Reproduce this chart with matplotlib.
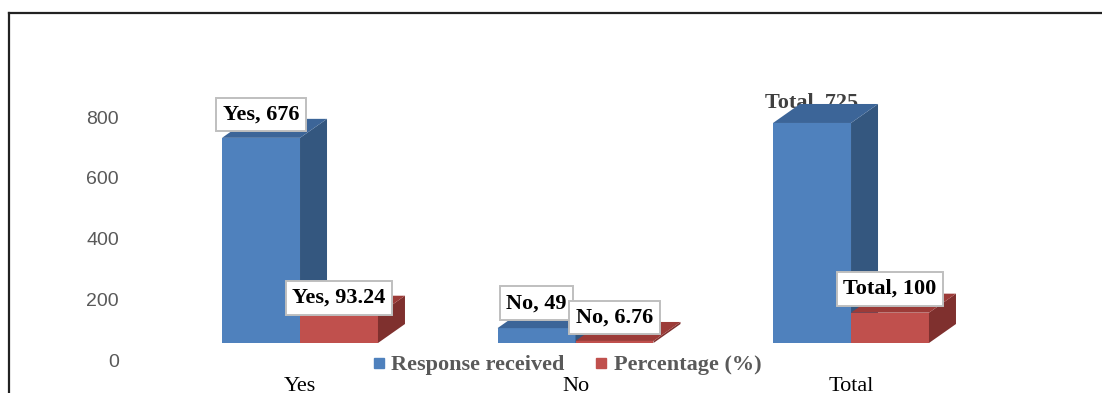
import matplotlib
matplotlib.use('Agg')
import matplotlib.pyplot as plt
from matplotlib.patches import Polygon
from matplotlib.lines import Line2D

categories = ['Yes', 'No', 'Total']
responses = [676, 49, 725]
percentages = [93.24, 6.76, 100]
series_names = ['Response received', 'Percentage (%)']
y_ticks = [0, 200, 400, 600, 800]

W, H = 1102, 393
fig = plt.figure(figsize=(W / 100, H / 100), dpi=100)
ax = fig.add_axes([127 / W, 0, 1 - 127 / W, 1])
ax.set_xlim(-0.628, 2.911)
ax.set_ylim(-164.7, 1130.2)

bar_w = 0.283
depth_x, depth_y = 0.098, 62.6
wall_shift = 56  # gridline labels belong to the back wall, below the bar floor

blue = dict(front='#4F81BD', side='#34577F', top='#3C6598')
red = dict(front='#C0504D', side='#7F302E', top='#9C3B38')

# vertical lift of each data label (points), blue then red per category
lift_blue = [17, 18, 15]
lift_red = [12, 17, 17]


def bar3d(x_left, h, c, z):
    xr = x_left + bar_w
    ax.bar(x_left, h, width=bar_w, align='edge', color=c['front'], lw=0, zorder=z)
    ax.add_patch(Polygon([(xr, 0), (xr + depth_x, depth_y), (xr + depth_x, h + depth_y), (xr, h)],
                         closed=True, fc=c['side'], lw=0, zorder=z))
    ax.add_patch(Polygon([(x_left, h), (x_left + depth_x, h + depth_y),
                          (xr + depth_x, h + depth_y), (xr, h)],
                         closed=True, fc=c['top'], lw=0, zorder=z))


lab_font = dict(family='Liberation Serif', weight='bold', size=16)
box = dict(boxstyle='square,pad=0.3', fc='white', ec='#BFBFBF', lw=1.4)

for i, cat in enumerate(categories):
    bar3d(i - bar_w, responses[i], blue, 2)
    bar3d(i, percentages[i], red, 3)

    # data labels: category name, value
    for xc, v, lift in [(i - bar_w / 2, responses[i], lift_blue[i]),
                        (i + bar_w / 2, percentages[i], lift_red[i])]:
        txt = '%s, %s' % (cat, format(v, 'g'))
        if cat == 'Total' and v == responses[i]:
            # this one has no box and sits behind the bar top
            ax.annotate(txt, (xc, v), xytext=(0, lift), textcoords='offset points',
                        ha='center', va='center', color='#404040', zorder=1, **lab_font)
        else:
            ax.annotate(txt, (xc, v), xytext=(0, lift), textcoords='offset points',
                        ha='center', va='center', color='black', bbox=box, zorder=5, **lab_font)

    ax.text(i, -158, cat, ha='center', va='baseline', fontsize=16, family='Liberation Serif')

ax.set_yticks([v - wall_shift for v in y_ticks])
ax.set_yticklabels([str(v) for v in y_ticks])
ax.tick_params(axis='y', length=0, pad=5.8, labelsize=14, labelcolor='#595959')
for lbl in ax.get_yticklabels():
    lbl.set_family('Liberation Sans')
ax.set_xticks([])
for s in ax.spines.values():
    s.set_visible(False)

handles = [Line2D([], [], marker='s', ls='', color=blue['front'], markersize=7.2),
           Line2D([], [], marker='s', ls='', color=red['front'], markersize=7.2)]
ax.legend(handles, series_names, loc='center', bbox_to_anchor=(567.5 / W, 1 - 365 / H),
          bbox_transform=fig.transFigure, ncol=2, frameon=False, prop=lab_font,
          labelcolor='#595959', handlelength=0.5, handletextpad=0.3, columnspacing=1.4,
          borderpad=0, borderaxespad=0)

# chart frame
fig.add_artist(Line2D([8.5 / W, 8.5 / W], [0, 1 - 12.5 / H], transform=fig.transFigure,
                      color='#222222', lw=1.6))
fig.add_artist(Line2D([8.5 / W, 1], [1 - 12.5 / H, 1 - 12.5 / H], transform=fig.transFigure,
                      color='#222222', lw=1.6))

fig.savefig('out.png', dpi=100)
